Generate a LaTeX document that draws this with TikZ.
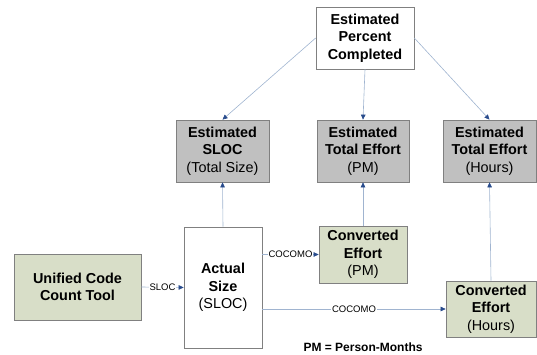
\documentclass[tikz,border=0pt]{standalone}
\usepackage{fontspec}
\setmainfont{Liberation Sans}
\usetikzlibrary{arrows.meta}
\definecolor{grayfill}{RGB}{192,192,192}
\definecolor{grayedge}{RGB}{128,128,128}
\definecolor{greenfill}{RGB}{216,222,200}
\definecolor{linecol}{RGB}{160,180,208}
\definecolor{tipcol}{RGB}{40,75,140}
\begin{document}
\begin{tikzpicture}[x=1pt,y=-1pt,
  box/.style={draw=grayedge, line width=0.7pt, align=center, inner sep=0pt,
    font=\fontsize{14.4}{17.7}\selectfont},
  whitebox/.style={box, fill=white},
  graybox/.style={box, fill=grayfill},
  greenbox/.style={box, fill=greenfill},
  conn/.style={draw=linecol, line width=0.6pt, -{Triangle[length=5pt,width=4.5pt,color=tipcol]}},
  lbl/.style={fill=white, inner sep=1pt, font=\fontsize{9.5}{11}\selectfont}
]
\useasboundingbox (0,0) rectangle (537,355);

\node[whitebox, minimum width=98pt, minimum height=62pt] (top) at (365,38)
  {\bfseries Estimated\\\bfseries Percent\\\bfseries Completed};

\node[graybox, minimum width=93pt, minimum height=62pt] (g1) at (222.5,151)
  {\bfseries Estimated\\\bfseries SLOC\\(Total Size)};
\node[graybox, minimum width=92pt, minimum height=62pt] (g2) at (363,151)
  {\bfseries Estimated\\\bfseries Total Effort\\(PM)};
\node[graybox, minimum width=93pt, minimum height=62pt] (g3) at (489.5,151)
  {\bfseries Estimated\\\bfseries Total Effort\\(Hours)};

\node[greenbox, minimum width=127pt, minimum height=66pt] (ucc) at (77.5,287)
  {\bfseries Unified Code\\\bfseries Count Tool};
\node[whitebox, minimum width=78pt, minimum height=121pt] (act) at (223,287.5)
  {\bfseries Actual\\\bfseries Size\\(SLOC)};
\node[greenbox, minimum width=88pt, minimum height=57pt] (cpm) at (363,254.5)
  {\bfseries Converted\\\bfseries Effort\\(PM)};
\node[greenbox, minimum width=90pt, minimum height=56pt] (chr) at (491,309)
  {\bfseries Converted\\\bfseries Effort\\(Hours)};

\node[font=\bfseries\fontsize{12}{14}\selectfont] (note) at (363,347) {PM = Person-Months};

\draw[conn] (top.west) -- (g1.north);
\draw[conn] (top.south) -- (g2.north);
\draw[conn] (top.east) -- (g3.north);
\draw[conn] (act.north) -- (g1.south);
\draw[conn] (cpm.north) -- (g2.south);
\draw[conn] (chr.north) -- (g3.south);
\draw[conn] (ucc.east) -- node[lbl] {SLOC} (act.west);
\draw[conn] (act.east |- cpm.west) -- node[lbl] {COCOMO} (cpm.west);
\draw[conn] (act.east |- chr.west) -- node[lbl] {COCOMO} (chr.west);
\end{tikzpicture}
\end{document}
